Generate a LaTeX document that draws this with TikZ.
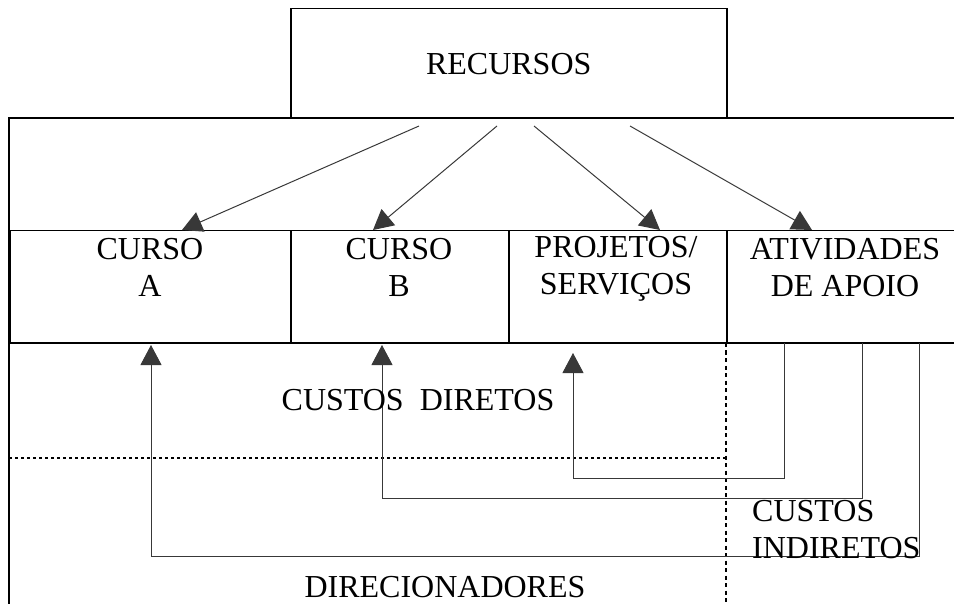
\documentclass[tikz,border=0pt]{standalone}
\usepackage{fontspec}
\setmainfont{Liberation Serif}
\usetikzlibrary{arrows.meta}
\begin{document}
\begin{tikzpicture}[x=1pt,y=-1pt,
  frame/.style={line width=1.5pt, draw=black},
  cellbox/.style={frame, rectangle, inner sep=0pt, anchor=north west},
  conn/.style={draw=black!78, line width=1pt, -{Triangle[length=20pt,width=21pt]}},
  lbl/.style={font=\fontsize{32}{37}\selectfont, inner sep=0pt, align=center},
  dots/.style={line width=1.3pt, dash pattern=on 2.5pt off 3.5pt},
  vdots/.style={line width=1.7pt, dash pattern=on 4pt off 3.5pt}]
\useasboundingbox (0,0) rectangle (954,604);

% outer frame
\draw[frame] (970,118) -- (9,118) -- (9,620);
\draw[frame] (9,343) -- (970,343);

% top box
\node[cellbox, minimum width=436pt, minimum height=110pt, lbl] (rec) at (290,8) {RECURSOS};

% cells
\node[cellbox, minimum width=281pt, minimum height=113pt] (cellA) at (9,230) {};
\node[cellbox, minimum width=218pt, minimum height=113pt] (cellB) at (290,230) {};
\node[cellbox, minimum width=218pt, minimum height=113pt] (cellP) at (508,230) {};
\node[cellbox, minimum width=244pt, minimum height=113pt] (cellD) at (726,230) {};

% cell texts
\node[lbl, anchor=north] (tA) at (150,238) {CURSO\\A};
\node[lbl, anchor=north] (tB) at (399,238) {CURSO\\B};
\node[lbl, anchor=north] (tP) at (616,236) {PROJETOS/\\SERVIÇOS};
\node[lbl, anchor=north] (tD) at (845,238) {ATIVIDADES\\DE APOIO};

% dotted separators
\coordinate (hl) at (9,458);
\coordinate (hr) at (726,458);
\draw[dots] (hl) -- (hr);
\coordinate (vt) at (726,343);
\coordinate (vb) at (726,610);
\draw[vdots] (vt) -- (vb);

% top arrows
\coordinate (s1) at (419,126);
\coordinate (s2) at (497,126);
\coordinate (s3) at (534,126);
\coordinate (s4) at (630,126);
\coordinate (e1) at (182,230);
\coordinate (e2) at (373,230);
\coordinate (e3) at (660,230);
\coordinate (e4) at (812,230);
\draw[conn] (s1) -- (e1);
\draw[conn] (s2) -- (e2);
\draw[conn] (s3) -- (e3);
\draw[conn] (s4) -- (e4);

% bottom arrows
\coordinate (dP) at (784,343);
\coordinate (dB) at (862,343);
\coordinate (dA) at (919,343);
\coordinate (uP) at (573,353);
\coordinate (uB) at (382,345);
\coordinate (uA) at (151,345);
\coordinate (cP) at (784,478);
\coordinate (cB) at (862,498);
\coordinate (cA) at (919,556);
\draw[conn] (dP) -- (cP) -| (uP);
\draw[conn] (dB) -- (cB) -| (uB);
\draw[conn] (dA) -- (cA) -| (uA);

% free labels
\node[lbl, anchor=base] (cd) at (418,410) {CUSTOS\ \ DIRETOS};
\node[lbl, anchor=north west, align=left] (ci) at (752,500) {CUSTOS\\INDIRETOS};
\node[lbl, anchor=base] (dir) at (445,597) {DIRECIONADORES};
\end{tikzpicture}
\end{document}
